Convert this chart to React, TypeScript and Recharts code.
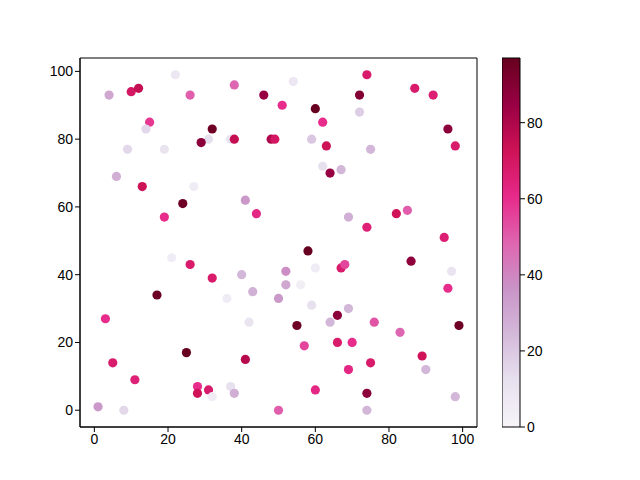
import {
  ScatterChart,
  Scatter,
  XAxis,
  YAxis,
  ReferenceArea,
  BarChart,
  Bar,
} from "recharts";

const xValues = [
  22, 4, 10, 12, 26, 38, 46, 51, 15, 14, 32, 31, 29, 37, 38, 48, 49, 9, 19, 6, 13, 27, 24, 41, 19, 44,
  54, 74, 87, 92, 72, 60, 72, 62, 96, 98, 59, 63, 62, 64, 67, 75, 69, 74, 82, 85, 95,
  21, 26, 32, 40, 43, 36, 50, 17, 3, 42, 25, 41, 5, 11, 28, 31, 28, 37, 32, 38, 1, 8, 50,
  58, 86, 52, 60, 67, 68, 97, 52, 56, 96, 59, 69, 66, 64, 76, 55, 99, 83, 57, 66, 70, 89, 69, 75, 90, 60, 74, 98, 74,
];
const yValues = [
  99, 93, 94, 95, 93, 96, 93, 90, 85, 83, 83, 80, 79, 80, 80, 80, 80, 77, 77, 69, 66, 66, 61, 62, 57, 58,
  97, 99, 95, 93, 93, 89, 88, 85, 83, 78, 80, 78, 72, 70, 71, 77, 57, 54, 58, 59, 51,
  45, 43, 39, 40, 35, 33, 33, 34, 27, 26, 17, 15, 14, 9, 7, 6, 5, 7, 4, 5, 1, 0, 0,
  47, 44, 41, 42, 42, 43, 41, 37, 37, 36, 31, 30, 28, 26, 26, 25, 25, 23, 19, 20, 20, 16, 12, 14, 12, 6, 5, 4, 0,
];
const colorValues = [
  8, 30, 70, 75, 50, 48, 85, 60, 58, 15, 95, 12, 88, 10, 75, 80, 70, 15, 10, 28, 73, 5, 95, 35, 60, 62,
  8, 68, 68, 66, 90, 97, 18, 60, 88, 68, 20, 73, 12, 85, 25, 25, 28, 65, 72, 50, 66,
  5, 68, 68, 25, 27, 5, 35, 95, 60, 10, 97, 78, 68, 65, 60, 68, 72, 12, 5, 28, 35, 15, 50,
  97, 87, 38, 5, 68, 55, 10, 30, 4, 60, 12, 25, 88, 25, 52, 95, 95, 48, 55, 68, 60, 72, 62, 68, 25, 62, 88, 25, 25,
];
const axisTicks = [0, 20, 40, 60, 80, 100];
const colorTicks = [0, 20, 40, 60, 80];
const colorMax = 97;

const points = xValues.map((x, i) => ({ x, y: yValues[i], c: colorValues[i] }));

// matplotlib PuRd stops
const puRd = [
  "#f7f4f9", "#e7e1ef", "#d4b9da", "#c994c7", "#df65b0",
  "#e7298a", "#ce1256", "#980043", "#67001f",
];

function hexToRgb(h: string) {
  return [1, 3, 5].map((k) => parseInt(h.slice(k, k + 2), 16));
}

function colorFor(v: number) {
  const t = Math.max(0, Math.min(1, v / colorMax)) * (puRd.length - 1);
  const i = Math.min(puRd.length - 2, Math.floor(t));
  const f = t - i;
  const a = hexToRgb(puRd[i]);
  const b = hexToRgb(puRd[i + 1]);
  const rgb = a.map((av, k) => Math.round(av + (b[k] - av) * f));
  return `rgb(${rgb.join(",")})`;
}

const font = { fontFamily: "Liberation Sans", fontSize: 14, fill: "#000" };

function Dot(props: any) {
  const { cx, cy, payload } = props;
  return <circle cx={cx} cy={cy} r={4.6} fill={colorFor(payload.c)} />;
}

export default function App() {
  return (
    <div style={{ position: "fixed", left: 0, top: 0, width: 640, height: 480, background: "#fff" }}>
      <ScatterChart
        width={640}
        height={480}
        margin={{ top: 58, right: 163, bottom: 0, left: 0 }}
      >
        <XAxis
          type="number"
          dataKey="x"
          domain={[-3.9, 103.9]}
          ticks={axisTicks}
          allowDataOverflow
          height={53}
          tickSize={5}
          tick={font}
          stroke="#000"
        />
        <YAxis
          type="number"
          dataKey="y"
          domain={[-4.95, 103.95]}
          ticks={axisTicks}
          allowDataOverflow
          width={80}
          tickSize={5}
          tick={font}
          stroke="#000"
        />
        <ReferenceArea
          x1={-3.9}
          x2={103.9}
          y1={-4.95}
          y2={103.95}
          fill="none"
          stroke="#000"
          strokeWidth={1}
        />
        <Scatter data={points} shape={Dot} isAnimationActive={false} />
      </ScatterChart>
      <div style={{ position: "absolute", left: 502, top: 0 }}>
        <BarChart
          width={70}
          height={480}
          data={[{ name: "cb", v: colorMax }]}
          margin={{ top: 58, right: 0, bottom: 53, left: 0 }}
          barCategoryGap={0}
        >
          <defs>
            <linearGradient id="puRdGrad" x1="0" y1="1" x2="0" y2="0">
              {puRd.map((c, i) => (
                <stop key={c} offset={`${(i / (puRd.length - 1)) * 100}%`} stopColor={c} />
              ))}
            </linearGradient>
          </defs>
          <XAxis dataKey="name" hide />
          <YAxis
            orientation="right"
            domain={[0, colorMax]}
            ticks={colorTicks}
            width={52}
            axisLine={false}
            tickSize={5}
            tick={font}
            stroke="#000"
          />
          <Bar
            dataKey="v"
            fill="url(#puRdGrad)"
            stroke="#000"
            strokeWidth={1}
            isAnimationActive={false}
          />
        </BarChart>
      </div>
    </div>
  );
}
